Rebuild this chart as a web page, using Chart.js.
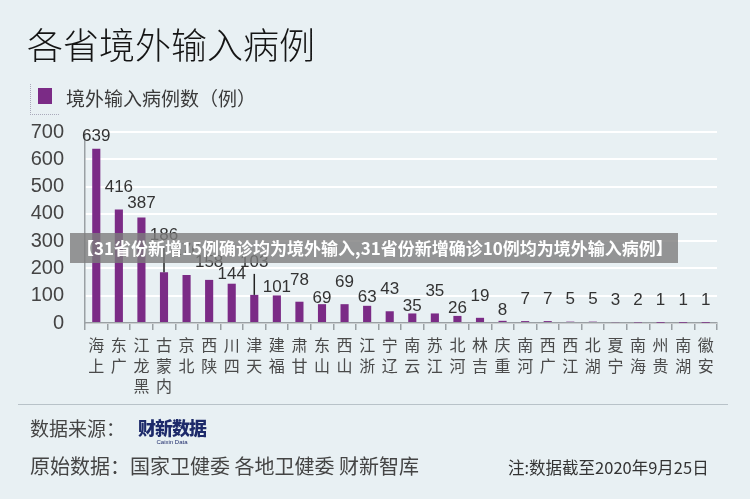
<!DOCTYPE html>
<html>
<head>
<meta charset="utf-8">
<script src="https://cdn.jsdelivr.net/npm/chart.js@4.4.1/dist/chart.umd.min.js"></script>
<style>
  body { margin: 0; width: 750px; height: 499px; background: #e8f0f3; position: relative; overflow: hidden;
         font-family: "Noto Sans CJK SC", sans-serif; color: #222; }
  #chart { position: absolute; left: 0; top: 0; }
  .title { position: absolute; left: 27px; top: 18px; font-size: 36px; line-height: 50px; color: #151515; font-weight: 300; }
  .legend { position: absolute; left: 30px; top: 84px; height: 30px; width: 28px;
            border-left: 1px dotted #aab; border-bottom: 1px dotted #aab; }
  .legend-box { position: absolute; left: 38px; top: 88px; width: 14px; height: 16px; background: #7b2b86; }
  .legend-text { position: absolute; left: 66px; top: 84px; font-size: 19px; line-height: 28px; color: #3a3a3a; }
  .banner { position: absolute; left: 70px; top: 233px; width: 608px; height: 30px; background: rgba(125,125,125,0.8);
            color: #fff; font-weight: 700; font-size: 17px; line-height: 30px; padding-left: 7px; box-sizing: border-box;
            white-space: nowrap; }
  .rule { position: absolute; left: 18px; top: 404px; width: 710px; height: 1px; background: #b8c2c8; }
  .src { position: absolute; left: 30px; top: 414px; font-size: 19px; line-height: 28px; color: #444; }
  .logo { position: absolute; left: 138px; top: 416px; font-size: 18px; font-weight: 900; color: #1d2a6a; letter-spacing: -1px; line-height: 22px; }
  .logo small { display: block; font-size: 6px; font-weight: 400; text-align: center; line-height: 8px; letter-spacing: 0; font-family: "Liberation Sans", sans-serif; }
  .orig { position: absolute; left: 30px; top: 452px; font-size: 20px; line-height: 28px; color: #444; white-space: nowrap; }
  .note { position: absolute; left: 508px; top: 455px; font-size: 16.5px; line-height: 24px; color: #333; white-space: nowrap; }
</style>
</head>
<body>
<canvas id="chart" width="750" height="499"></canvas>
<div class="title">各省境外输入病例</div>
<div class="legend"></div>
<div class="legend-box"></div>
<div class="legend-text">境外输入病例数（例）</div>
<div class="banner">【31省份新增15例确诊均为境外输入,31省份新增确诊10例均为境外输入病例】</div>
<div class="rule"></div>
<div class="src">数据来源：</div>
<div class="logo">财新数据<small>Caixin Data</small></div>
<div class="orig">原始数据：国家卫健委 各地卫健委 财新智库</div>
<div class="note">注:数据截至2020年9月25日</div>

<script>
// data
const provinces = ['上海', '广东', '黑龙江', '内蒙古', '北京', '陕西', '四川', '天津', '福建', '甘肃',
  '山东', '山西', '浙江', '辽宁', '云南', '江苏', '河北', '吉林', '重庆', '河南',
  '广西', '江西', '湖北', '宁夏', '海南', '贵州', '湖南', '安徽'];
const importedCases = [639, 416, 387, 186, 176, 158, 144, 103, 101, 78,
  69, 69, 63, 43, 35, 35, 26, 19, 8, 7,
  7, 5, 5, 3, 2, 1, 1, 1];
const yTickValues = [0, 100, 200, 300, 400, 500, 600, 700];

// value labels are staggered in the original; how far (px) each one sits above its bar
const LABEL_LIFT = [12, 22, 14, 37, 25, 18, 9, 33, 8, 21, 6, 22, 8, 22, 7, 22, 8, 22, 11, 22,
  22, 22, 22, 22, 22, 22, 22, 22];
const LEADER_LINES = [3, 7];

const BAR_COLOR = '#7b2b86';

// characters are stacked, read bottom to top
const xLabels = provinces.map(p => p.split('').reverse());

const valueLabels = {
  id: 'valueLabels',
  afterDatasetsDraw(chart) {
    const ctx = chart.ctx;
    const meta = chart.getDatasetMeta(0);
    ctx.save();
    ctx.font = '17px "Liberation Sans", Arial, sans-serif';
    ctx.fillStyle = '#333';
    ctx.textAlign = 'center';
    ctx.textBaseline = 'middle';
    meta.data.forEach((bar, i) => {
      const y = bar.y - LABEL_LIFT[i];
      ctx.fillText(String(importedCases[i]), bar.x, y);
      if (LEADER_LINES.includes(i)) {
        ctx.strokeStyle = '#222';
        ctx.lineWidth = 1.5;
        ctx.beginPath();
        ctx.moveTo(bar.x, y + 12);
        ctx.lineTo(bar.x, bar.y);
        ctx.stroke();
      }
    });
    ctx.restore();
  }
};

new Chart(document.getElementById('chart'), {
  type: 'bar',
  data: {
    labels: xLabels,
    datasets: [{
      label: '境外输入病例数（例）',
      data: importedCases,
      backgroundColor: BAR_COLOR,
      barPercentage: 0.36,
      categoryPercentage: 1
    }]
  },
  options: {
    responsive: false,
    animation: false,
    layout: { padding: { left: 0, right: 33, top: 132, bottom: 96 } },
    plugins: {
      legend: { display: false },
      tooltip: { enabled: false }
    },
    scales: {
      x: {
        afterFit: s => { s.height = 80; },
        grid: { display: true, drawOnChartArea: false, offset: true, tickLength: 7, color: '#9aa0a4', lineWidth: 1.5 },
        border: { color: '#9aa0a4', width: 1.5 },
        ticks: {
          autoSkip: false,
          maxRotation: 0,
          padding: 5,
          color: '#4a4a4a',
          font: { family: '"Noto Sans CJK SC"', size: 16, lineHeight: 1.27 }
        }
      },
      y: {
        min: 0,
        max: 700,
        afterFit: s => { s.width = 85; },
        afterBuildTicks: s => { s.ticks = yTickValues.map(v => ({ value: v })); },
        grid: { color: '#ffffff', lineWidth: 2, drawTicks: false },
        border: { color: '#9aa0a4', width: 1.5 },
        ticks: {
          padding: 21,
          color: '#444',
          font: { family: '"Liberation Sans", Arial, sans-serif', size: 20 }
        }
      }
    }
  },
  plugins: [valueLabels]
});
</script>
</body>
</html>
